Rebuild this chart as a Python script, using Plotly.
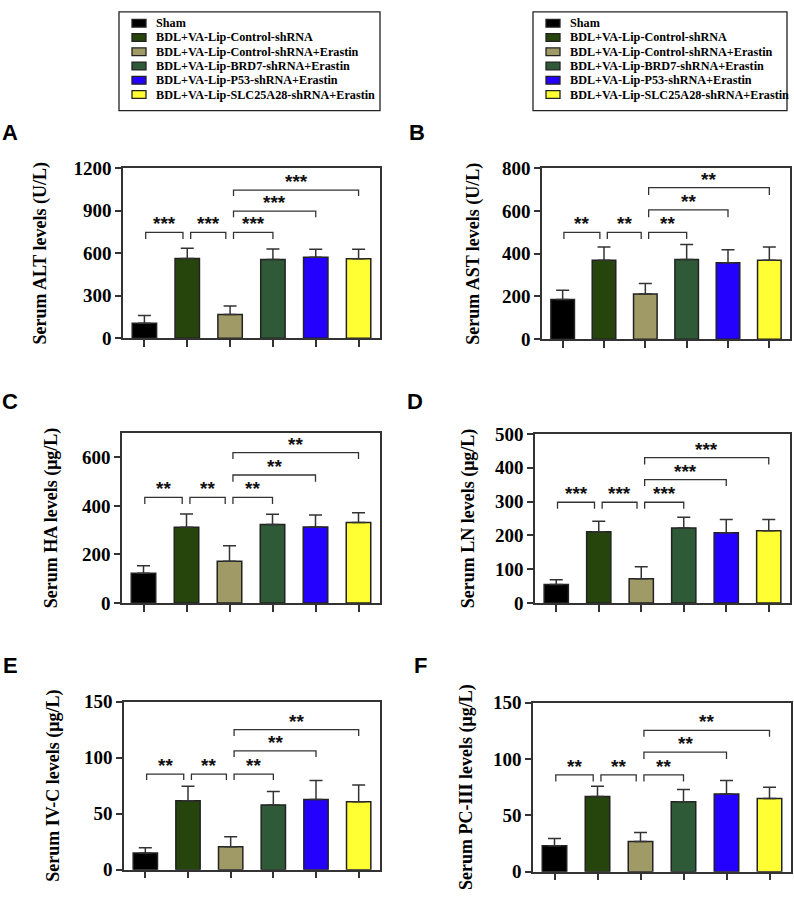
import plotly.graph_objects as go

# ---------------- data ----------------
groups = ["Sham",
          "BDL+VA-Lip-Control-shRNA",
          "BDL+VA-Lip-Control-shRNA+Erastin",
          "BDL+VA-Lip-BRD7-shRNA+Erastin",
          "BDL+VA-Lip-P53-shRNA+Erastin",
          "BDL+VA-Lip-SLC25A28-shRNA+Erastin"]
colors = ["#000000", "#26450c", "#a09b66", "#2f5a37", "#2400ff", "#ffff33"]

alt_mean = [105, 563, 168, 556, 572, 561]
alt_sd = [55, 72, 60, 74, 56, 67]
ast_mean = [186, 369, 212, 373, 358, 369]
ast_sd = [43, 62, 49, 70, 61, 62]
ha_mean = [122, 312, 172, 323, 313, 331]
ha_sd = [31, 54, 64, 42, 49, 41]
ln_mean = [55, 211, 72, 222, 208, 214]
ln_sd = [14, 31, 35, 32, 39, 33]
ivc_mean = [15, 61.5, 20.5, 57.7, 62.6, 60.6]
ivc_sd = [4.6, 13, 9, 12, 17, 15]
pc3_mean = [23, 66.7, 26.7, 62, 69, 65]
pc3_sd = [6.4, 9, 8, 10.8, 12, 9.8]

pairs = [(0, 1), (1, 2), (2, 3), (2, 4), (2, 5)]

alt_sig = ["***", "***", "***", "***", "***"]
ast_sig = ["**", "**", "**", "**", "**"]
ha_sig = ["**", "**", "**", "**", "**"]
ln_sig = ["***", "***", "***", "***", "***"]
ivc_sig = ["**", "**", "**", "**", "**"]
pc3_sig = ["**", "**", "**", "**", "**"]

alt_br = [747, 747, 747, 897, 1046]
ast_br = [500, 500, 500, 605, 709]
ha_br = [435, 435, 435, 527, 619]
ln_br = [298, 298, 298, 365, 430]
ivc_br = [85.4, 85.4, 85.4, 106, 125]
pc3_br = [85.9, 85.9, 85.9, 106, 125.3]

alt_leg = [701, 701, 701, 855, 1005]
ast_leg = [469, 469, 469, 571, 675]
ha_leg = [408, 408, 408, 499, 593]
ln_leg = [279, 279, 279, 346, 410]
ivc_leg = [80, 80, 80, 100.5, 119.4]
pc3_leg = [80, 80, 80, 100, 119.8]

titles = ["Serum ALT levels (U/L)", "Serum AST levels (U/L)",
          "Serum HA levels (\u03bcg/L)", "Serum LN levels (\u03bcg/L)",
          "Serum IV-C levels (\u03bcg/L)", "Serum PC-III levels (\u03bcg/L)"]
letters = ["A", "B", "C", "D", "E", "F"]
y_max = [1200, 800, 700, 500, 150, 150]
y_dtick = [300, 200, 200, 100, 50, 50]

panels = [
    (alt_mean, alt_sd, alt_sig, alt_br, alt_leg),
    (ast_mean, ast_sd, ast_sig, ast_br, ast_leg),
    (ha_mean, ha_sd, ha_sig, ha_br, ha_leg),
    (ln_mean, ln_sd, ln_sig, ln_br, ln_leg),
    (ivc_mean, ivc_sd, ivc_sig, ivc_br, ivc_leg),
    (pc3_mean, pc3_sd, pc3_sig, pc3_br, pc3_leg),
]

# ---------------- layout geometry (px) ----------------
W, H = 794, 910
boxes = [(123, 380, 162, 336), (542, 790, 162, 337),
         (122, 380, 433, 607), (535, 790, 434, 607),
         (124, 380, 708, 880), (533, 791, 709, 882)]
letter_pos = [(10, 125), (417, 125), (10, 401), (415, 401), (10, 671), (421, 671)]
title_standoff = [22, 18, 20, 16, 20, 16]

AX = "#333333"
SERIF = "Liberation Serif, Times New Roman, serif"
SANS = "Liberation Sans, Arial, sans-serif"

fig = go.Figure()
annotations = []
shapes = []

for i, (mean, sd, sig, br, leg) in enumerate(panels):
    n = i + 1
    xa = "x" if n == 1 else f"x{n}"
    ya = "y" if n == 1 else f"y{n}"
    fig.add_trace(go.Bar(
        x=list(range(len(groups))), y=mean,
        width=0.57,
        marker=dict(color=colors, line=dict(color="#222222", width=1.5)),
        error_y=dict(type="data", array=sd, arrayminus=[0] * len(sd), symmetric=False,
                     color=AX, thickness=1.5, width=6.5),
        xaxis=xa, yaxis=ya, showlegend=False, hoverinfo="skip"))
    # significance brackets
    bx, by = [], []
    for k, (a, b) in enumerate(pairs):
        x0 = a + (0.03 if k == 0 else 0.08)
        x1 = b - (0.1 if k < 2 else 0.0)
        bx += [x0, x0, x1, x1, None]
        by += [leg[k], br[k], br[k], leg[k], None]
        annotations.append(dict(x=(x0 + x1) / 2, y=br[k], xref=xa, yref=ya,
                                text=f"<b>{sig[k]}</b>", showarrow=False,
                                yanchor="bottom", yshift=-4,
                                font=dict(family=SANS, size=19, color="#111111")))
    fig.add_trace(go.Scatter(x=bx, y=by, mode="lines",
                             line=dict(color=AX, width=1.3),
                             xaxis=xa, yaxis=ya, showlegend=False, hoverinfo="skip"))

    l, r, t, b_ = boxes[i]
    xkey = "xaxis" if n == 1 else f"xaxis{n}"
    ykey = "yaxis" if n == 1 else f"yaxis{n}"
    fig.update_layout(**{
        xkey: dict(domain=[l / W, r / W], anchor=ya, range=[-0.5, 5.5],
                   showgrid=False, zeroline=False, showline=True, mirror=True,
                   linecolor=AX, linewidth=1.5, ticks="outside", ticklen=7,
                   tickwidth=1.5, tickcolor=AX, tickvals=list(range(6)),
                   showticklabels=False, fixedrange=True),
        ykey: dict(domain=[1 - b_ / H, 1 - t / H], anchor=xa,
                   range=[0, y_max[i]], dtick=y_dtick[i], tick0=0,
                   showgrid=False, zeroline=False, showline=True, mirror=True,
                   linecolor=AX, linewidth=1.5, ticks="outside", ticklen=6,
                   tickwidth=1.5, tickcolor=AX,
                   tickfont=dict(family=SERIF, size=19, color="#000000", weight="bold"),
                   title=dict(text=f"<b>{titles[i]}</b>", standoff=title_standoff[i],
                              font=dict(family=SERIF, size=18, color="#000000")),
                   fixedrange=True),
    })
    lx, ly = letter_pos[i]
    annotations.append(dict(x=lx / W, y=1 - ly / H, xref="paper", yref="paper",
                            text=f"<b>{letters[i]}</b>", showarrow=False,
                            xanchor="center", yanchor="middle",
                            font=dict(family=SANS, size=22, color="#000000")))

# ---------------- manual legends (two identical boxes) ----------------
legend_boxes = [(119, 380), (533, 787)]
for (lx0, lx1) in legend_boxes:
    shapes.append(dict(type="rect", xref="paper", yref="paper",
                       x0=lx0 / W, x1=lx1 / W, y0=1 - 103 / H, y1=1 - 2 / H,
                       line=dict(color="#222222", width=1.3), fillcolor="rgba(0,0,0,0)"))
    sw0 = lx0 + 13
    for k, (g, c) in enumerate(zip(groups, colors)):
        yc = 13.5 + k * 14.6
        shapes.append(dict(type="rect", xref="paper", yref="paper",
                           x0=sw0 / W, x1=(sw0 + 14) / W,
                           y0=1 - (yc + 4) / H, y1=1 - (yc - 4) / H,
                           line=dict(color="#222222", width=1.3), fillcolor=c))
        annotations.append(dict(x=(sw0 + 22) / W, y=1 - yc / H, xref="paper", yref="paper",
                                text=f"<b>{g}</b>", showarrow=False,
                                xanchor="left", yanchor="middle",
                                font=dict(family=SERIF, size=12.2, color="#000000")))

fig.update_layout(width=W, height=H, margin=dict(l=0, r=0, t=0, b=0),
                  paper_bgcolor="white", plot_bgcolor="white",
                  barmode="overlay", showlegend=False,
                  annotations=annotations, shapes=shapes)

fig.write_html("out.html", config={"displayModeBar": False},
               post_script="document.body.style.margin='0';document.body.style.overflow='hidden';")
